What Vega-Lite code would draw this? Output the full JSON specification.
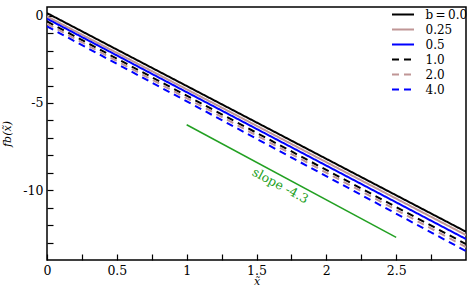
{
  "$schema": "https://vega.github.io/schema/vega-lite/v6.json",
  "width": 419,
  "height": 253,
  "autosize": {"type": "none"},
  "padding": {"left": 47, "top": 7, "right": 3, "bottom": 30},
  "config": {
    "view": {"stroke": "black", "strokeWidth": 1.5},
    "font": "DejaVu Serif",
    "axis": {"grid": false, "domain": false, "labelColor": "black", "tickColor": "black", "tickWidth": 1.2, "titleFontWeight": "normal", "titleColor": "black"}
  },
  "layer": [
    {
      "data": {"values": [
        {"b": "0.0", "x": 0, "y": 0.15}, {"b": "0.0", "x": 3, "y": -12.38},
        {"b": "0.25", "x": 0, "y": -0.04}, {"b": "0.25", "x": 3, "y": -12.57},
        {"b": "0.5", "x": 0, "y": -0.17}, {"b": "0.5", "x": 3, "y": -12.8},
        {"b": "1.0", "x": 0, "y": -0.33}, {"b": "1.0", "x": 3, "y": -13.09},
        {"b": "2.0", "x": 0, "y": -0.46}, {"b": "2.0", "x": 3, "y": -13.26},
        {"b": "4.0", "x": 0, "y": -0.61}, {"b": "4.0", "x": 3, "y": -13.49}
      ]},
      "mark": {"type": "line", "strokeWidth": 2, "clip": true},
      "encoding": {
        "x": {"field": "x", "type": "quantitative", "scale": {"domain": [0, 3], "nice": false},
          "axis": {"title": "x̃", "titleFont": "DejaVu Serif", "titleFontStyle": "italic", "titleFontSize": 11, "titlePadding": -1,
            "labelFont": "DejaVu Serif", "labelFontSize": 12.5, "labelOverlap": false, "labelFlush": false, "tickCount": 100,
            "values": [0, 0.25, 0.5, 0.75, 1, 1.25, 1.5, 1.75, 2, 2.25, 2.5, 2.75],
            "labelExpr": "datum.value % 0.5 === 0 ? '' + datum.value : ''",
            "tickSize": -6, "labelPadding": 10,
            "encode": {"ticks": {"update": {"y2": {"signal": "datum.value % 0.5 === 0 ? -6 : -3"}}}}}},
        "y": {"field": "y", "type": "quantitative", "scale": {"domain": [-14, 0.5], "nice": false, "zero": false},
          "axis": {"title": "fb(x̃)", "titleFont": "DejaVu Serif", "titleFontStyle": "italic", "titleFontSize": 11, "titlePadding": 10,
            "labelFont": "DejaVu Serif", "labelFontSize": 12.5, "labelOverlap": false, "labelFlush": false, "tickCount": 100,
            "values": [0, -1, -2, -3, -4, -5, -6, -7, -8, -9, -10, -11, -12, -13],
            "labelExpr": "datum.value % 5 === 0 ? '' + datum.value : ''",
            "tickSize": -6, "labelPadding": 10,
            "encode": {"ticks": {"update": {"x2": {"signal": "datum.value % 5 === 0 ? 6 : 3"}}}}}},
        "color": {"field": "b", "type": "nominal",
          "scale": {"domain": ["0.0", "0.25", "0.5", "1.0", "2.0", "4.0"], "range": ["#000000", "#c09696", "#0000ff", "#000000", "#c09696", "#0000ff"]},
          "legend": {"title": null, "orient": "none", "legendX": 349.5, "legendY": 1,
            "symbolType": "M-2,0H2", "symbolSize": 121, "symbolStrokeWidth": 2, "labelOffset": 16,
            "labelFont": "DejaVu Serif", "labelFontSize": 12, "labelColor": "black", "rowPadding": 2, "padding": 0,
            "labelExpr": "datum.label === '0.0' ? 'b\u2009=\u20090.0' : datum.label"}},
        "strokeDash": {"field": "b", "type": "nominal",
          "scale": {"domain": ["0.0", "0.25", "0.5", "1.0", "2.0", "4.0"], "range": [[1, 0], [1, 0], [1, 0], [7, 5], [7, 5], [7, 5]]},
          "legend": {"title": null, "orient": "none", "legendX": 349.5, "legendY": 1,
            "symbolType": "M-2,0H2", "symbolSize": 121, "symbolStrokeWidth": 2, "labelOffset": 16,
            "labelFont": "DejaVu Serif", "labelFontSize": 12, "labelColor": "black", "rowPadding": 2, "padding": 0,
            "labelExpr": "datum.label === '0.0' ? 'b\u2009=\u20090.0' : datum.label"}}
      }
    },
    {
      "data": {"values": [{"x": 1, "y": -6.25}, {"x": 2.5, "y": -12.7}]},
      "mark": {"type": "line", "color": "#22a022", "strokeWidth": 1.5},
      "encoding": {"x": {"field": "x", "type": "quantitative"}, "y": {"field": "y", "type": "quantitative"}}
    },
    {
      "data": {"values": [{"x": 1.67, "y": -9.74, "label": "slope -4.3"}]},
      "mark": {"type": "text", "color": "#22a022", "angle": 28, "font": "DejaVu Serif", "fontSize": 12.5, "align": "center", "baseline": "middle"},
      "encoding": {"x": {"field": "x", "type": "quantitative"}, "y": {"field": "y", "type": "quantitative"}, "text": {"field": "label"}}
    }
  ]
}
